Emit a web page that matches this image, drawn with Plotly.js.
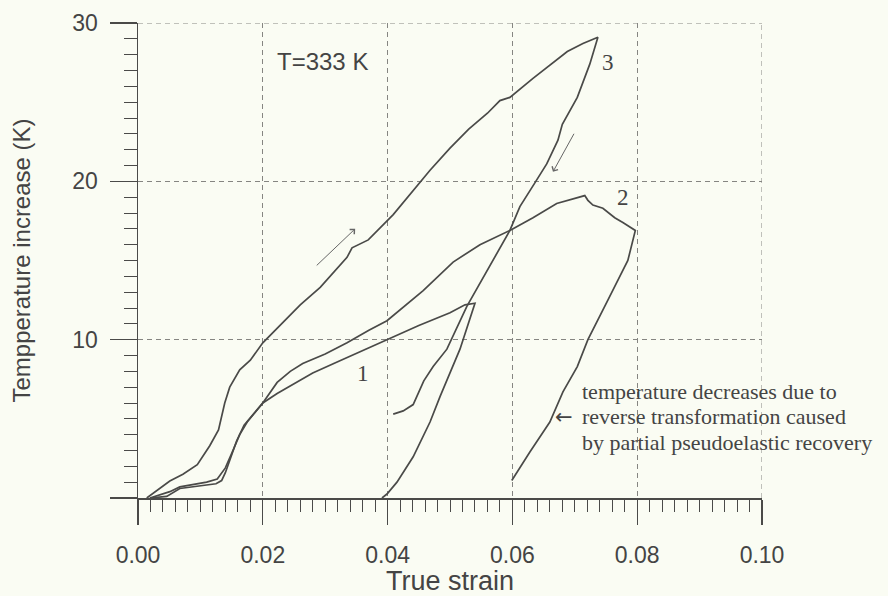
<!DOCTYPE html>
<html>
<head>
<meta charset="utf-8">
<script src="https://cdn.plot.ly/plotly-3.0.1.min.js"></script>
<style>
  html, body { margin: 0; padding: 0; background: #fafcf3; }
  #chart { width: 888px; height: 596px; }
</style>
</head>
<body>
<div id="chart"></div>
<script>
// ---- Data ----
// Cycle 1 (loading to ~0.054, then unloading)
const strain1 = [0.0019, 0.0046, 0.0067, 0.0099, 0.0125, 0.0134, 0.0140, 0.0158, 0.0170, 0.0185, 0.0200, 0.0223, 0.0250, 0.0280, 0.0320, 0.0360, 0.0400, 0.0450, 0.0500, 0.0524, 0.0540, 0.0516, 0.0484, 0.0468, 0.0441, 0.0415, 0.0399, 0.0391];
const temp1   = [0, 0.1, 0.6, 0.75, 0.9, 1.1, 1.6, 3.6, 4.6, 5.3, 6.0, 6.6, 7.2, 7.9, 8.6, 9.3, 10.0, 10.9, 11.7, 12.2, 12.3, 9.4, 6.4, 4.8, 2.6, 1.0, 0.25, 0];

// Cycle 2 (loading to ~0.080, then unloading)
const strain2 = [0.0019, 0.0051, 0.0067, 0.0110, 0.0127, 0.0140, 0.0150, 0.0163, 0.0175, 0.0190, 0.0200, 0.0223, 0.0244, 0.0264, 0.0300, 0.0335, 0.0370, 0.0399, 0.0430, 0.0457, 0.0505, 0.0548, 0.0596, 0.0633, 0.0671, 0.0696, 0.0716, 0.0721, 0.0729, 0.0745, 0.0764, 0.0777, 0.0797, 0.0785, 0.0770, 0.0753, 0.0721, 0.0704, 0.0681, 0.0660, 0.0628, 0.0601, 0.0599];
const temp2   = [0, 0.4, 0.7, 1.0, 1.2, 1.9, 2.8, 4.0, 4.8, 5.5, 6.0, 7.3, 8.0, 8.5, 9.1, 9.8, 10.6, 11.2, 12.2, 13.1, 14.9, 16.0, 16.9, 17.7, 18.6, 18.9, 19.1, 18.8, 18.5, 18.3, 17.7, 17.4, 16.9, 15.0, 13.8, 12.5, 10.0, 8.3, 6.7, 4.8, 2.9, 1.2, 1.1];

// Cycle 3 (loading to ~0.074, then unloading)
const strain3 = [0.0014, 0.0024, 0.0051, 0.0072, 0.0095, 0.0115, 0.0129, 0.0139, 0.0147, 0.0163, 0.0180, 0.0200, 0.0228, 0.0260, 0.0292, 0.0335, 0.0343, 0.0369, 0.0409, 0.0436, 0.0452, 0.0468, 0.0500, 0.0530, 0.0560, 0.0580, 0.0596, 0.0633, 0.0688, 0.0713, 0.0737, 0.0724, 0.0704, 0.0680, 0.0673, 0.0655, 0.0636, 0.0612, 0.0596, 0.0569, 0.0548, 0.0527, 0.0495, 0.0473, 0.0458, 0.0449, 0.0441, 0.0425, 0.0409];
const temp3   = [0, 0.3, 1.07, 1.5, 2.1, 3.3, 4.3, 6.0, 7.0, 8.1, 8.7, 9.8, 10.9, 12.2, 13.3, 15.2, 15.8, 16.3, 17.9, 19.2, 19.9, 20.7, 22.1, 23.3, 24.3, 25.1, 25.3, 26.5, 28.2, 28.7, 29.1, 27.4, 25.3, 23.6, 22.6, 21.1, 19.9, 18.4, 16.9, 15.0, 13.6, 12.1, 9.4, 8.3, 7.4, 6.6, 5.9, 5.5, 5.3];

// Axis ticks
const xTickVals = [0, 0.02, 0.04, 0.06, 0.08, 0.10];
const xTickText = ["0.00", "0.02", "0.04", "0.06", "0.08", "0.10"];
const yTickVals = [0, 10, 20, 30];
const yTickText = ["", "10", "20", "30"];
const xMax = 0.10;
const yMax = 30;

// Texts
const xTitle = "True strain";
const yTitle = "Tempperature increase (K)";
const tempLabel = "T=333 K";
const cycleLabels = ["1", "2", "3"];
const cycleLabelX = [0.0361, 0.0777, 0.0753];
const cycleLabelY = [7.85, 19.0, 27.5];
const noteLines = ["temperature decreases due to", "reverse transformation caused", "by partial pseudoelastic recovery"];
const noteY = [6.74, 5.14, 3.50];

// ---- Styles ----
const ink = "#4a4a48";
const textInk = "#444";
const gridInk = "#858581";
const gridDash = "5px,4px";
const sans = "Arial, 'Liberation Sans', sans-serif";
const serif = "'Times New Roman', 'Liberation Serif', serif";

function curve(x, y) {
  return { x: x, y: y, mode: "lines", type: "scatter", hoverinfo: "skip",
           line: { color: ink, width: 1.7 }, showlegend: false };
}

const traces = [curve(strain1, temp1), curve(strain2, temp2), curve(strain3, temp3)];

const annotations = [];
annotations.push({ x: 0.0295, y: 27.56, xref: "x", yref: "y", text: tempLabel, showarrow: false,
  font: { family: sans, size: 24, color: textInk } });
cycleLabels.forEach((t, i) => annotations.push({ x: cycleLabelX[i], y: cycleLabelY[i], xref: "x", yref: "y",
  text: t, showarrow: false, font: { family: serif, size: 23, color: textInk } }));
noteLines.forEach((t, i) => annotations.push({ x: 0.0708, y: noteY[i], xref: "x", yref: "y", text: t,
  showarrow: false, xanchor: "left", yanchor: "middle", font: { family: serif, size: 22, color: textInk } }));
annotations.push({ x: 0.0682, y: 5.14, xref: "x", yref: "y", text: "←", showarrow: false,
  font: { family: "'DejaVu Sans', sans-serif", size: 21, color: textInk } });
// small direction arrows
annotations.push({ x: 0.0348, y: 17.0, ax: 0.0284, ay: 14.6, xref: "x", yref: "y", axref: "x", ayref: "y",
  text: "", showarrow: true, arrowhead: 4, arrowsize: 1.3, arrowwidth: 1, arrowcolor: "#666" });
annotations.push({ x: 0.0665, y: 20.6, ax: 0.0700, ay: 23.1, xref: "x", yref: "y", axref: "x", ayref: "y",
  text: "", showarrow: true, arrowhead: 4, arrowsize: 1.3, arrowwidth: 1, arrowcolor: "#666" });

// dashed grid lines on the outer edges (top and right), which the axes do not draw at their range ends
const shapes = [
  { type: "line", xref: "x", yref: "paper", x0: xMax, x1: xMax, y0: 0, y1: 1,
    line: { color: gridInk, width: 1, dash: gridDash }, layer: "below" },
  { type: "line", xref: "paper", yref: "y", x0: 0, x1: 1, y0: yMax, y1: yMax,
    line: { color: gridInk, width: 1, dash: gridDash }, layer: "below" }
];

const layout = {
  width: 888, height: 596,
  paper_bgcolor: "#fafcf3", plot_bgcolor: "#fafcf3",
  margin: { l: 138, r: 126, t: 23, b: 98 },
  showlegend: false,
  xaxis: {
    range: [0, xMax], tickmode: "array", tickvals: xTickVals, ticktext: xTickText,
    ticks: "outside", ticklen: 25, tickwidth: 1.3, tickcolor: ink,
    minor: { tickmode: "linear", tick0: 0, dtick: 0.002, ticks: "outside", ticklen: 12, tickwidth: 1, tickcolor: ink, showgrid: false },
    showline: true, linecolor: ink, linewidth: 1.5, zeroline: false,
    showgrid: true, gridcolor: gridInk, gridwidth: 1, griddash: gridDash,
    tickfont: { family: sans, size: 23, color: textInk }, ticklabelstandoff: 11,
    title: { text: xTitle, font: { family: sans, size: 27, color: textInk }, standoff: 10 },
    automargin: false, fixedrange: true
  },
  yaxis: {
    range: [0, yMax], tickmode: "array", tickvals: yTickVals, ticktext: yTickText,
    ticks: "outside", ticklen: 27, tickwidth: 1.3, tickcolor: ink,
    minor: { tickmode: "linear", tick0: 0, dtick: 1, ticks: "outside", ticklen: 13, tickwidth: 1, tickcolor: ink, showgrid: false },
    showline: true, linecolor: ink, linewidth: 1.5, zeroline: false,
    showgrid: true, gridcolor: gridInk, gridwidth: 1, griddash: gridDash,
    tickfont: { family: sans, size: 23, color: textInk }, ticklabelstandoff: 7,
    title: { text: yTitle, font: { family: sans, size: 24, color: textInk }, standoff: 35 },
    automargin: false, fixedrange: true
  },
  shapes: shapes,
  annotations: annotations
};

Plotly.newPlot("chart", traces, layout, { staticPlot: true, displayModeBar: false });
</script>
</body>
</html>
